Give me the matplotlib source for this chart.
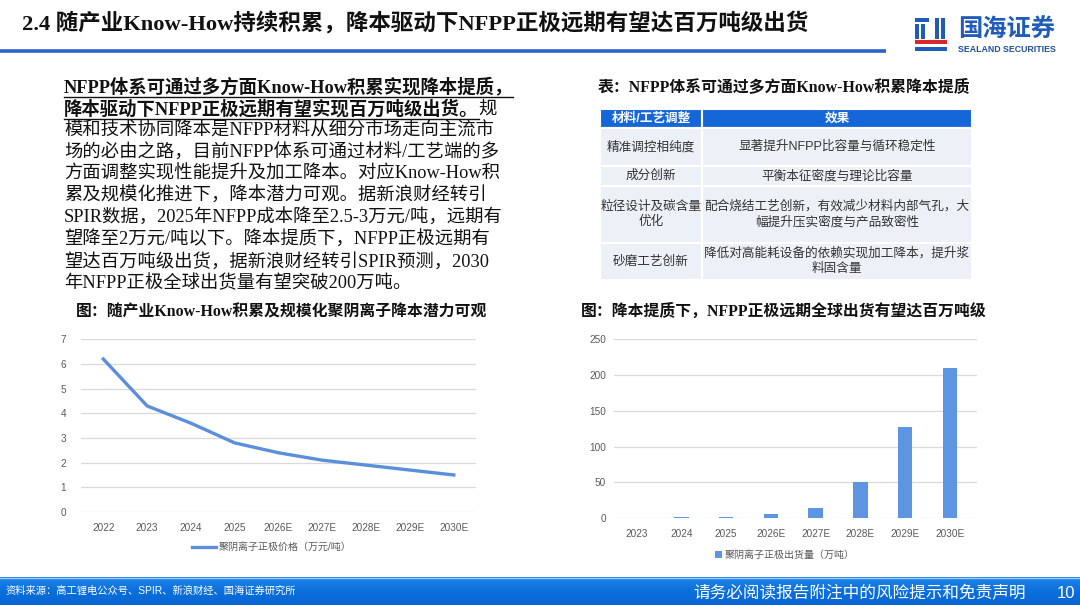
import numpy as np
import matplotlib
matplotlib.use('Agg')
from matplotlib import pyplot as plt
from matplotlib.patches import Rectangle

plt.rcParams['font.family'] = ['Liberation Sans', 'Noto Sans CJK SC']

## data
years_price = ['2022', '2023', '2024', '2025', '2026E', '2027E', '2028E', '2029E', '2030E']
price = [6.2, 4.3, 3.6, 2.8, 2.4, 2.1, 1.9, 1.7, 1.5]
price_label = '聚阴离子正极价格（万元/吨）'

years_ship = ['2023', '2024', '2025', '2026E', '2027E', '2028E', '2029E', '2030E']
shipment = [0.2, 1.2, 1.4, 5, 14, 51, 128, 210]
ship_label = '聚阴离子正极出货量（万吨）'

table_head = ['材料/工艺调整', '效果']
table_rows = [
    ['精准调控相纯度', '显著提升NFPP比容量与循环稳定性'],
    ['成分创新', '平衡本征密度与理论比容量'],
    ['粒径设计及碳含量\n优化', '配合烧结工艺创新，有效减少材料内部气孔，大\n幅提升压实密度与产品致密性'],
    ['砂磨工艺创新', '降低对高能耗设备的依赖实现加工降本，提升浆\n料固含量'],
]

para_bold = ['NFPP体系可通过多方面Know-How积累实现降本提质，',
             '降本驱动下NFPP正极远期有望实现百万吨级出货。']
para_rest = ['模和技术协同降本是NFPP材料从细分市场走向主流市',
             '场的必由之路，目前NFPP体系可通过材料/工艺端的多',
             '方面调整实现性能提升及加工降本。对应Know-How积',
             '累及规模化推进下，降本潜力可观。据新浪财经转引',
             'SPIR数据，2025年NFPP成本降至2.5-3万元/吨，远期有',
             '望降至2万元/吨以下。降本提质下，NFPP正极远期有',
             '望达百万吨级出货，据新浪财经转引SPIR预测，2030',
             '年NFPP正极全球出货量有望突破200万吨。']

W, H = 1080, 605
SERIF = ['Liberation Serif', 'Noto Sans CJK SC']
BLUE = '#5B8FDB'


def rect(l, t, w, h):
    return [l / W, 1 - (t + h) / H, w / W, h / H]


fig = plt.figure(figsize=(W / 100, H / 100), dpi=100)
bg = fig.add_axes([0, 0, 1, 1])
bg.set_xlim(0, W)
bg.set_ylim(H, 0)
bg.axis('off')

# header
bg.text(22, 23, '2.4 随产业Know-How持续积累，降本驱动下NFPP正极远期有望达百万吨级出货',
        family=SERIF, weight='bold', fontsize=16.2, va='center', color='#111111')
bg.plot([0, 886], [50.5, 50.5], color='#2A62C9', lw=2.6, solid_capstyle='butt')

# logo
for x0, y0, w0, h0, c in [(915, 18, 14, 4, '#1F5BB8'), (915, 24, 4, 15, '#1F5BB8'),
                          (921, 24, 4, 15, '#1F5BB8'), (935, 18, 4, 21, '#1F5BB8'),
                          (941, 18, 4, 21, '#1F5BB8'), (915, 40, 32, 4, '#D7262E'),
                          (915, 47, 32, 4, '#1F5BB8')]:
    bg.add_patch(Rectangle((x0, y0), w0, h0, color=c, lw=0))
bg.text(958, 30, '国海证券', fontsize=17.5, weight='bold', color='#1F5BB8', va='center')
bg.text(958, 49.5, 'SEALAND SECURITIES', fontsize=6.3, weight='bold', color='#1F4F9E', va='center')

# paragraph
fig.canvas.draw()
rend = fig.canvas.get_renderer()
inv = bg.transData.inverted()
y = 87
ps = 13.2
for i, s in enumerate(para_bold):
    t = bg.text(64, y, s, family=SERIF, weight='bold', fontsize=ps, va='center', color='#111111')
    bb = t.get_window_extent(rend)
    (x1, _), (x2, _) = inv.transform([[bb.x0, bb.y0], [bb.x1, bb.y1]])
    bg.plot([x1, x2], [y + 10, y + 10], color='#111111', lw=1)
    if i == 1:
        bg.text(x2, y, '规', family=SERIF, fontsize=ps, va='center', color='#111111')
    y += 21.8
for s in para_rest:
    bg.text(64, y, s, family=SERIF, fontsize=ps, va='center', color='#111111')
    y += 21.8

# titles
bg.text(282, 312, '图：随产业Know-How积累及规模化聚阴离子降本潜力可观', family=SERIF,
        weight='bold', fontsize=11.4, ha='center', va='center', color='#111111')
bg.text(784, 312, '图：降本提质下，NFPP正极远期全球出货有望达百万吨级', family=SERIF,
        weight='bold', fontsize=11.4, ha='center', va='center', color='#111111')
bg.text(784, 87, '表：NFPP体系可通过多方面Know-How积累降本提质', family=SERIF,
        weight='bold', fontsize=11.4, ha='center', va='center', color='#111111')

# table
col_x = [600, 702, 972]
row_y = [109, 128, 166, 186, 243, 280]
for r in range(len(row_y) - 1):
    for c in range(2):
        fc = '#1567D9' if r == 0 else '#EDF0F7'
        bg.add_patch(Rectangle((col_x[c], row_y[r]), col_x[c + 1] - col_x[c],
                               row_y[r + 1] - row_y[r], fc=fc, ec='white', lw=1.5))
        cx = (col_x[c] + col_x[c + 1]) / 2
        cy = (row_y[r] + row_y[r + 1]) / 2
        if r == 0:
            bg.text(cx, cy, table_head[c], fontsize=9.1, weight='bold', color='white',
                    ha='center', va='center')
        else:
            bg.text(cx, cy, table_rows[r - 1][c], fontsize=9.1, color='#333333',
                    ha='center', va='center', linespacing=1.35)

# line chart
ax1 = fig.add_axes(rect(81.4, 339.3, 394.3, 172.7))
ax1.patch.set_alpha(0)
x1s = np.arange(len(years_price))
ax1.plot(x1s, price, color=BLUE, lw=2.4, solid_joinstyle='round', label=price_label)
ax1.set_xlim(-0.5, len(years_price) - 0.5)
ax1.set_ylim(0, 7)
ax1.set_yticks(range(0, 8))
ax1.set_xticks(x1s)
ax1.set_xticklabels(years_price)

# bar chart
ax2 = fig.add_axes(rect(614.3, 339.3, 362.4, 178.7))
ax2.patch.set_alpha(0)
x2s = np.arange(len(years_ship))
ax2.bar(x2s, shipment, width=0.32, color='#5E95E2', label=ship_label)
ax2.set_xlim(-0.5, len(years_ship) - 0.4)
ax2.set_ylim(0, 250)
ax2.set_yticks(range(0, 251, 50))
ax2.set_xticks(x2s)
ax2.set_xticklabels(years_ship)

for ax in (ax1, ax2):
    for sp in ax.spines.values():
        sp.set_visible(False)
    ax.grid(axis='y', color='#D9D9D9', lw=0.9)
    ax.set_axisbelow(True)
    ax.tick_params(length=0, labelsize=7.2, labelcolor='#595959')
    ax.tick_params(axis='x', pad=8)
ax1.tick_params(axis='y', pad=11)
ax2.tick_params(axis='y', pad=6)

ax1.legend(loc='center', bbox_to_anchor=(272 / W, 1 - 547 / H), bbox_transform=fig.transFigure,
           frameon=False, fontsize=7.2, labelcolor='#595959', handlelength=2.4, handletextpad=0.3)
ax2.legend(loc='center', bbox_to_anchor=(785 / W, 1 - 555 / H), bbox_transform=fig.transFigure,
           frameon=False, fontsize=7.2, labelcolor='#595959', handlelength=0.7, handleheight=0.7,
           handletextpad=0.3)

# footer
grad = np.linspace(0, 1, 50).reshape(-1, 1)
bg.imshow(grad, extent=[0, W, 605, 577], cmap=matplotlib.colors.LinearSegmentedColormap.from_list(
    'f', ['#1E86EA', '#0B6FDC', '#0866D4']), aspect='auto', zorder=0)
bg.plot([0, W], [577.5, 577.5], color='#9CC8F2', lw=1)
bg.set_xlim(0, W)
bg.set_ylim(H, 0)
bg.text(6, 591, '资料来源：高工锂电公众号、SPIR、新浪财经、国海证券研究所', fontsize=7.4,
        color='white', va='center')
bg.text(693, 593, '请务必阅读报告附注中的风险提示和免责声明', fontsize=12, color='white', va='center')
bg.text(1057, 593, '10', fontsize=12, color='white', va='center')

fig.savefig('out.png', dpi=100)
